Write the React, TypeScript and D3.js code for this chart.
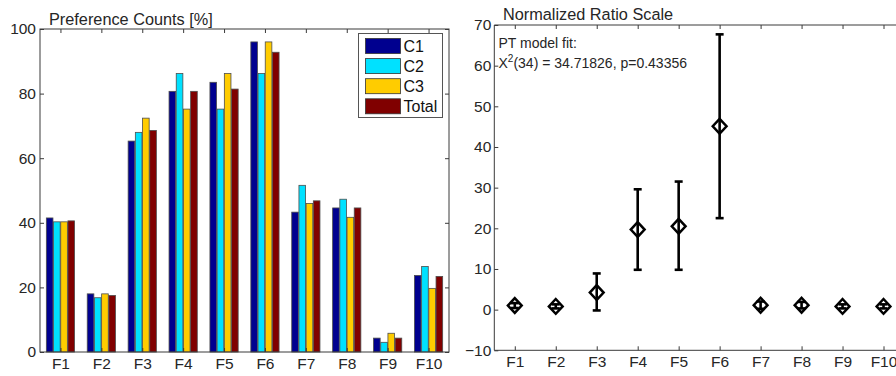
import { useEffect, useRef } from "react";
import * as d3 from "d3";

const WIDTH = 896;
const HEIGHT = 376;
const FONT = "Liberation Sans, Arial, Helvetica, sans-serif";
const AXIS_COLOR = "#3a3a3a";
const TEXT_COLOR = "#262626";
const TICK_FONT = "15.5px";
const TITLE_FONT = "16.3px";

const CATEGORIES = ["F1", "F2", "F3", "F4", "F5", "F6", "F7", "F8", "F9", "F10"];
const SERIES = ["C1", "C2", "C3", "Total"];
const SERIES_COLORS = ["#00008f", "#00e1ff", "#ffcc00", "#800000"];

const C1 = [41.5, 18, 65.3, 80.7, 83.5, 96, 43.3, 44.6, 4.3, 23.7];
const C2 = [40.3, 16.8, 68, 86.2, 75.2, 86.2, 51.6, 47.3, 3, 26.5];
const C3 = [40.3, 18, 72.4, 75.2, 86.2, 96, 46, 41.7, 5.8, 19.7];
const TOTAL = [40.6, 17.5, 68.6, 80.7, 81.4, 92.8, 46.8, 44.6, 4.3, 23.4];

const LEFT_Y_TICKS = [0, 20, 40, 60, 80, 100];
const RIGHT_Y_TICKS = [-10, 0, 10, 20, 30, 40, 50, 60, 70];

const RATIO = [1.0, 0.8, 4.2, 19.7, 20.5, 45.1, 1.1, 1.1, 0.8, 0.8];
const RATIO_LOW = [0.4, 0.3, -0.2, 9.8, 9.8, 22.5, 0.2, 0.3, 0.3, 0.3];
const RATIO_HIGH = [1.6, 1.3, 8.9, 29.6, 31.5, 67.7, 2.0, 1.9, 1.3, 1.3];

const LEFT = { x0: 40, x1: 449, y0: 352, y1: 29 };
const RIGHT = { x0: 494.3, x1: 904, y0: 350.3, y1: 25 };

export default function App() {
  const svgRef = useRef<SVGSVGElement>(null);

  useEffect(() => {
    if (!svgRef.current) return;
    const svg = d3.select(svgRef.current);
    svg.selectAll("*").remove();

    const idx = CATEGORIES.map((_, i) => i + 1);
    const seriesData = [C1, C2, C3, TOTAL];

    // ---------- left panel: grouped bars ----------
    const xL = d3.scaleLinear().domain([0.5, 10.5]).range([LEFT.x0, LEFT.x1]);
    const yL = d3.scaleLinear().domain([0, 100]).range([LEFT.y0, LEFT.y1]);
    const groupW = (xL(2) - xL(1)) * 0.69;
    const inner = d3
      .scaleBand<string>()
      .domain(SERIES)
      .range([-groupW / 2, groupW / 2])
      .paddingInner(0.08);

    const left = svg.append("g");

    SERIES.forEach((s, si) => {
      left
        .append("g")
        .selectAll("rect")
        .data(seriesData[si])
        .enter()
        .append("rect")
        .attr("x", (_, i) => xL(i + 1) + (inner(s) ?? 0))
        .attr("y", (d) => yL(d))
        .attr("width", inner.bandwidth())
        .attr("height", (d) => yL(0) - yL(d))
        .attr("fill", SERIES_COLORS[si])
        .attr("stroke", "#4d4d4d")
        .attr("stroke-width", 0.8);
    });

    const styleAxis = (g: any) => {
      g.select(".domain").remove();
      g.selectAll(".tick line").attr("stroke", AXIS_COLOR).attr("stroke-width", 1);
      g.selectAll(".tick text")
        .style("font-family", FONT)
        .style("font-size", TICK_FONT)
        .attr("fill", TEXT_COLOR);
    };

    left
      .append("g")
      .attr("transform", `translate(0,${LEFT.y0})`)
      .call(
        d3
          .axisBottom(xL)
          .tickValues(idx)
          .tickFormat((d) => CATEGORIES[(d as number) - 1])
          .tickSize(-4)
          .tickPadding(6)
      )
      .call(styleAxis);
    left
      .append("g")
      .attr("transform", `translate(0,${LEFT.y1})`)
      .call(d3.axisTop(xL).tickValues(idx).tickFormat(() => "").tickSize(-4))
      .call(styleAxis);
    left
      .append("g")
      .attr("transform", `translate(${LEFT.x0},0)`)
      .call(d3.axisLeft(yL).tickValues(LEFT_Y_TICKS).tickSize(-4).tickPadding(4))
      .call(styleAxis);
    left
      .append("g")
      .attr("transform", `translate(${LEFT.x1},0)`)
      .call(d3.axisRight(yL).tickValues(LEFT_Y_TICKS).tickFormat(() => "").tickSize(-4))
      .call(styleAxis);

    left
      .append("rect")
      .attr("x", LEFT.x0)
      .attr("y", LEFT.y1)
      .attr("width", LEFT.x1 - LEFT.x0)
      .attr("height", LEFT.y0 - LEFT.y1)
      .attr("fill", "none")
      .attr("stroke", AXIS_COLOR)
      .attr("stroke-width", 1);

    left
      .append("text")
      .attr("x", 49)
      .attr("y", 25)
      .style("font-family", FONT)
      .style("font-size", TITLE_FONT)
      .attr("fill", TEXT_COLOR)
      .text("Preference Counts [%]");

    // legend
    const legend = left.append("g").attr("transform", "translate(358.5,33.5)");
    legend
      .append("rect")
      .attr("width", 84)
      .attr("height", 84)
      .attr("fill", "white")
      .attr("stroke", "#555")
      .attr("stroke-width", 1);
    SERIES.forEach((s, i) => {
      const row = legend.append("g").attr("transform", `translate(7,${5 + i * 20.1})`);
      row
        .append("rect")
        .attr("width", 35)
        .attr("height", 15)
        .attr("fill", SERIES_COLORS[i])
        .attr("stroke", "#333")
        .attr("stroke-width", 0.8);
      row
        .append("text")
        .attr("x", 38)
        .attr("y", 7.5)
        .attr("dy", "0.36em")
        .style("font-family", FONT)
        .style("font-size", "16px")
        .attr("fill", "#111")
        .text(s);
    });

    // ---------- right panel: ratio scale ----------
    const xR = d3.scaleLinear().domain([0.5, 10.5]).range([RIGHT.x0, RIGHT.x1]);
    const yR = d3.scaleLinear().domain([-10, 70]).range([RIGHT.y0, RIGHT.y1]);
    const right = svg.append("g");

    right
      .append("g")
      .attr("transform", `translate(0,${RIGHT.y0})`)
      .call(
        d3
          .axisBottom(xR)
          .tickValues(idx)
          .tickFormat((d) => CATEGORIES[(d as number) - 1])
          .tickSize(-4)
          .tickPadding(6)
      )
      .call(styleAxis);
    right
      .append("g")
      .attr("transform", `translate(0,${RIGHT.y1})`)
      .call(d3.axisTop(xR).tickValues(idx).tickFormat(() => "").tickSize(-4))
      .call(styleAxis);
    right
      .append("g")
      .attr("transform", `translate(${RIGHT.x0},0)`)
      .call(
        d3
          .axisLeft(yR)
          .tickValues(RIGHT_Y_TICKS)
          .tickFormat((d) => String(d).replace("-", "\u2212"))
          .tickSize(-4)
          .tickPadding(3)
      )
      .call(styleAxis);

    right
      .append("path")
      .attr("d", `M${RIGHT.x1},${RIGHT.y1}H${RIGHT.x0}V${RIGHT.y0}H${RIGHT.x1}`)
      .attr("fill", "none")
      .attr("stroke", AXIS_COLOR)
      .attr("stroke-width", 1);

    right
      .append("text")
      .attr("x", 503)
      .attr("y", 20)
      .style("font-family", FONT)
      .style("font-size", TITLE_FONT)
      .attr("fill", TEXT_COLOR)
      .text("Normalized Ratio Scale");

    const fit = right
      .append("text")
      .style("font-family", FONT)
      .style("font-size", "14px")
      .attr("fill", TEXT_COLOR);
    fit.append("tspan").attr("x", 498.5).attr("y", 48).text("PT model fit:");
    fit.append("tspan").attr("x", 498.5).attr("y", 67.5).text("X");
    fit.append("tspan").attr("dy", -5.5).style("font-size", "10px").text("2");
    fit.append("tspan").attr("dy", 5.5).text("(34) = 34.71826, p=0.43356");

    const marks = right.append("g");
    idx.forEach((v, i) => {
      const cx = xR(v);
      const g = marks.append("g");
      g.append("line")
        .attr("x1", cx)
        .attr("x2", cx)
        .attr("y1", yR(RATIO_LOW[i]))
        .attr("y2", yR(RATIO_HIGH[i]))
        .attr("stroke", "black")
        .attr("stroke-width", 2.6);
      [RATIO_LOW[i], RATIO_HIGH[i]].forEach((e) =>
        g
          .append("line")
          .attr("x1", cx - 4)
          .attr("x2", cx + 4)
          .attr("y1", yR(e))
          .attr("y2", yR(e))
          .attr("stroke", "black")
          .attr("stroke-width", 2.6)
      );
      const cy = yR(RATIO[i]);
      g.append("path")
        .attr("d", `M${cx},${cy - 7.4}L${cx + 6.9},${cy}L${cx},${cy + 7.4}L${cx - 6.9},${cy}Z`)
        .attr("fill", "none")
        .attr("stroke", "black")
        .attr("stroke-width", 2.5);
    });
  }, []);

  return (
    <svg
      ref={svgRef}
      width={WIDTH}
      height={HEIGHT}
      style={{ position: "absolute", left: 0, top: 0, background: "white" }}
    ></svg>
  );
}
